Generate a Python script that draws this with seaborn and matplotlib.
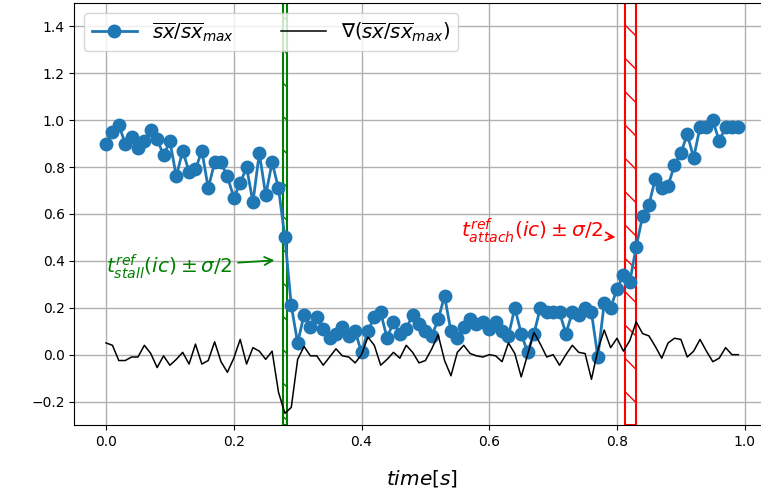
import matplotlib
matplotlib.use("Agg")
import matplotlib.pyplot as plt
import numpy as np
import pandas as pd
import seaborn as sns

# time axis (s)
time = [round(0.01 * i, 2) for i in range(100)]

# normalised sx
sx_norm = [
    0.90, 0.95, 0.98, 0.90, 0.93, 0.88, 0.91, 0.96, 0.92, 0.85,
    0.91, 0.76, 0.87, 0.78, 0.79, 0.87, 0.71, 0.82, 0.82, 0.76,
    0.67, 0.73, 0.80, 0.65, 0.86, 0.68, 0.82, 0.71, 0.50, 0.21,
    0.05, 0.17, 0.12, 0.16, 0.11, 0.07, 0.09, 0.12, 0.08, 0.10,
    0.01, 0.10, 0.16, 0.18, 0.07, 0.14, 0.09, 0.11, 0.17, 0.13,
    0.10, 0.08, 0.15, 0.25, 0.10, 0.07, 0.12, 0.15, 0.13, 0.14,
    0.11, 0.14, 0.10, 0.08, 0.20, 0.09, 0.01, 0.09, 0.20, 0.18,
    0.18, 0.18, 0.09, 0.18, 0.17, 0.20, 0.18, -0.01, 0.22, 0.20,
    0.28, 0.34, 0.31, 0.46, 0.59, 0.64, 0.75, 0.71, 0.72, 0.81,
    0.86, 0.94, 0.84, 0.97, 0.97, 1.00, 0.91, 0.97, 0.97, 0.97,
]

# gradient of the normalised sx
sx_grad = [
    0.050, 0.040, -0.025, -0.025, -0.010, -0.010, 0.040, 0.005, -0.055, -0.005,
    -0.045, -0.020, 0.010, -0.040, 0.045, -0.040, -0.025, 0.055, -0.030, -0.075,
    -0.015, 0.065, -0.040, 0.030, 0.015, -0.020, 0.015, -0.160, -0.250, -0.225,
    -0.020, 0.035, -0.005, -0.005, -0.045, -0.010, 0.025, -0.005, -0.010, -0.035,
    0.000, 0.075, 0.040, -0.045, -0.020, 0.010, -0.015, 0.040, 0.010, -0.035,
    -0.025, 0.025, 0.085, -0.025, -0.090, 0.010, 0.040, 0.005, -0.005, -0.010,
    0.000, -0.005, -0.030, 0.050, 0.005, -0.095, 0.000, 0.095, 0.045, -0.010,
    0.000, -0.045, 0.000, 0.040, 0.010, 0.005, -0.105, 0.020, 0.105, 0.030,
    0.070, 0.015, 0.060, 0.140, 0.090, 0.080, 0.035, -0.015, 0.050, 0.070,
    0.065, -0.010, 0.015, 0.065, 0.015, -0.030, -0.015, 0.030, 0.000, 0.000,
]

# reference times and sigma band limits
t_stall = [0.277, 0.284]
t_attach = [0.812, 0.829]

df = pd.DataFrame({"time": time, "sx": sx_norm, "grad": sx_grad})

fig = plt.figure(figsize=(7.61, 4.96), dpi=100)
ax = fig.add_axes([0.0978, 0.1431, 0.914, 0.851])

sns.lineplot(data=df, x="time", y="sx", ax=ax, color="#1f77b4", marker="o",
             markersize=10, markeredgewidth=0, linewidth=2.0,
             label=r"$\overline{sx}/\overline{sx}_{max}$")
sns.lineplot(data=df, x="time", y="grad", ax=ax, color="black", linewidth=1.1,
             label=r"$\nabla(\overline{sx}/\overline{sx}_{max})$")

# stall / attach bands
ax.axvspan(t_stall[0], t_stall[1], fill=False, hatch="\\", edgecolor="green", linewidth=1.5)
ax.axvspan(t_attach[0], t_attach[1], fill=False, hatch="\\", edgecolor="red", linewidth=1.5)

ax.annotate(r"$t^{ref}_{stall}(ic) \pm \sigma/2$", xy=(0.268, 0.403), xytext=(0.0, 0.374),
            color="green", fontsize=14.5, va="center", ha="left",
            arrowprops=dict(arrowstyle="->", color="green", lw=1.3))
ax.annotate(r"$t^{ref}_{attach}(ic) \pm \sigma/2$", xy=(0.802, 0.50), xytext=(0.778, 0.53),
            color="red", fontsize=14.5, va="center", ha="right",
            arrowprops=dict(arrowstyle="->", color="red", lw=1.3))

ax.set_ylim(-0.3, 1.5)
ax.set_xlim(-0.0495, 1.0395)
ax.set_xticks([0.0, 0.2, 0.4, 0.6, 0.8, 1.0])
ax.set_yticks([-0.2, 0.0, 0.2, 0.4, 0.6, 0.8, 1.0, 1.2, 1.4])
ax.grid(True, color="#b0b0b0", linewidth=1.0)
ax.set_axisbelow(True)
ax.set_xlabel(r"$time[s]$", fontsize=14.5, labelpad=14)
ax.set_ylabel("")
ax.legend(loc="upper left", ncol=2, fontsize=14, handlelength=2.3, columnspacing=2.4)

fig.savefig("out.png", dpi=100)
